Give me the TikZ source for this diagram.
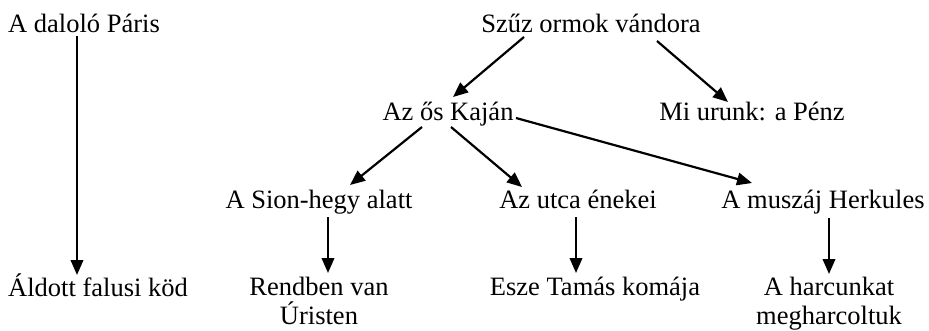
\documentclass[tikz,border=0pt]{standalone}
\usepackage{fontspec}
\setmainfont{Liberation Serif}
\usetikzlibrary{arrows.meta,calc}
\begin{document}
\begin{tikzpicture}[x=1pt,y=-1pt,
  lbl/.style={inner sep=0pt,font=\fontsize{26.5}{29}\selectfont,align=center},
  arr/.style={line width=2.2pt,-{Triangle[length=15pt,width=12.5pt]}}]
\useasboundingbox[fill=white] (0,0) rectangle (929,330);
\node[lbl,anchor=base west] (paris) at (8,32) {A daloló Páris};
\node[lbl,anchor=base west] (aldott) at (8,296) {Áldott falusi köd};
\node[lbl,anchor=base] (szuz) at (591,32) {Szűz ormok vándora};
\node[lbl,anchor=base] (kajan) at (448,120) {Az ős Kaján};
\node[lbl,anchor=base] (mi) at (752,120) {Mi urunk: a Pénz};
\node[lbl,anchor=base] (sion) at (319,208) {A Sion-hegy alatt};
\node[lbl,anchor=base] (utca) at (578,208) {Az utca énekei};
\node[lbl,anchor=base] (herk) at (823,208) {A muszáj Herkules};
\node[lbl,anchor=base] (rend) at (319,324) {Rendben van\\Úristen};
\node[lbl,anchor=base] (esze) at (595,295) {Esze Tamás komája};
\node[lbl,anchor=base] (harc) at (829,324) {A harcunkat\\megharcoltuk};
\draw[arr] ($(paris.base west)+(69,4)$) -- ($(aldott.base west)+(69,-21)$);
\draw[arr] ($(szuz.base)+(-67,5)$) -- ($(kajan.base)+(5,-23)$);
\draw[arr] ($(szuz.base)+(66,9)$) -- ($(mi.base)+(-24,-18)$);
\draw[arr] ($(kajan.base)+(-26,7)$) -- ($(sion.base)+(31,-23)$);
\draw[arr] ($(kajan.base)+(3,7)$) -- ($(utca.base)+(-56,-21)$);
\draw[arr] ($(kajan.base)+(68,-2)$) -- ($(herk.base)+(-71,-25)$);
\draw[arr] ($(sion.base)+(9,9)$) -- ($(rend.base)+(9,-51)$);
\draw[arr] ($(utca.base)+(-2,9)$) -- ($(esze.base)+(-19,-22)$);
\draw[arr] ($(herk.base)+(6,10)$) -- ($(harc.base)+(0,-50)$);
\end{tikzpicture}
\end{document}
